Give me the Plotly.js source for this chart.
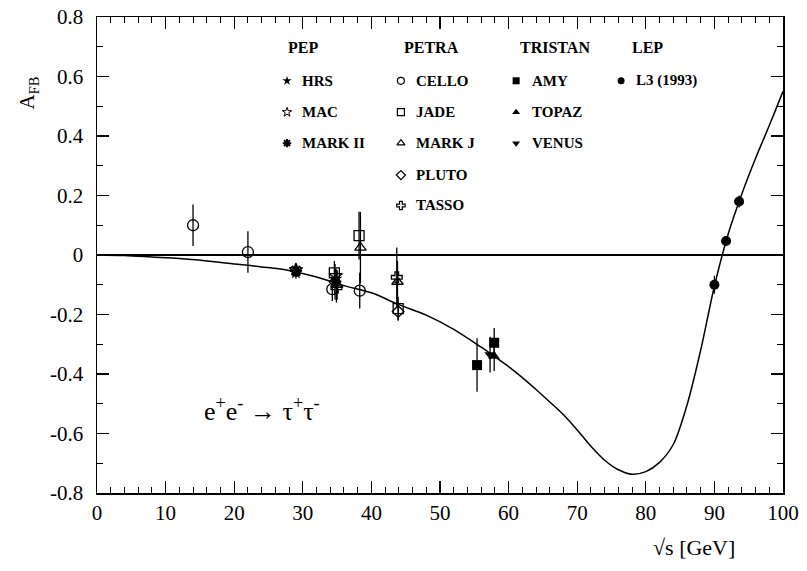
<!DOCTYPE html>
<html><head><meta charset="utf-8">
<script src="https://cdn.plot.ly/plotly-3.0.1.min.js"></script>
<style>body{margin:0;background:#fff}#plot{width:807px;height:571px}</style>
</head><body><div id="plot"></div>
<script>
// ---- theory curve ----
const curveX = [0, 4, 8, 12, 16, 20, 24, 28, 32, 36, 40, 44, 48, 52, 56, 58, 60, 62, 64, 66, 68, 70, 72, 74, 76, 78, 80, 82, 84, 86, 88, 90, 92, 94, 96, 98, 100];
const curveY = [0, -0.002, -0.007, -0.012, -0.02, -0.03, -0.04, -0.052, -0.074, -0.103, -0.127, -0.167, -0.202, -0.25, -0.31, -0.342, -0.375, -0.412, -0.452, -0.494, -0.537, -0.588, -0.643, -0.69, -0.722, -0.737, -0.728, -0.697, -0.637, -0.505, -0.32, -0.105, 0.07, 0.205, 0.325, 0.435, 0.55];

// ---- measurements ----
const hrsX = [29.0, 34.8], hrsY = [-0.06, -0.08], hrsE = [0.02, 0.03];
const macX = [29.0, 34.8], macY = [-0.05, -0.07], macE = [0.015, 0.025];
const mk2X = [29.0], mk2Y = [-0.052], mk2E = [0.02];
const celloX = [14.0, 22.0, 34.3, 38.3], celloY = [0.10, 0.01, -0.115, -0.12], celloE = [0.07, 0.07, 0.04, 0.06];
const jadeX = [34.6, 38.2, 43.9], jadeY = [-0.06, 0.065, -0.18], jadeE = [0.04, 0.08, 0.04];
const markjX = [35.0, 38.4, 43.8], markjY = [-0.10, 0.025, -0.09], markjE = [0.05, 0.12, 0.07];
const plutoX = [34.7, 43.9], plutoY = [-0.09, -0.19], plutoE = [0.06, 0.03];
const tassoX = [34.9, 43.7], tassoY = [-0.11, -0.075], tassoE = [0.05, 0.10];
const amyX = [55.4, 57.9], amyY = [-0.37, -0.295], amyE = [0.09, 0.05];
const topazX = [57.9], topazY = [-0.34], topazE = [0.05];
const venusX = [57.3], venusY = [-0.335], venusE = [0.06];
const l3X = [90.0, 91.7, 93.6], l3Y = [-0.10, 0.047, 0.18], l3E = [0.03, 0.015, 0.02];

// ---- legend groups ----
const groupNames = ["PEP", "PETRA", "TRISTAN", "LEP"];
const pepNames = ["HRS", "MAC", "MARK II"];
const petraNames = ["CELLO", "JADE", "MARK J", "PLUTO", "TASSO"];
const tristanNames = ["AMY", "TOPAZ", "VENUS"];
const lepNames = ["L3 (1993)"];

const yTickVals = [-0.8, -0.6, -0.4, -0.2, 0, 0.2, 0.4, 0.6, 0.8];
const yTickText = ["-0.8", "-0.6", "-0.4", "-0.2", "0", "0.2", "0.4", "0.6", "0.8"];

const FONT = "Liberation Serif, Times New Roman, serif";

function meas(x, y, e, sym, size, lw) {
  return {
    x: x, y: y, type: "scatter", mode: "markers",
    marker: {symbol: sym, size: size, color: "black", line: {color: "black", width: lw}},
    error_y: {type: "data", array: e, visible: true, width: 0, thickness: 1.3, color: "black"},
    showlegend: false, xaxis: "x", yaxis: "y", hoverinfo: "x+y"
  };
}

const traces = [
  {x: curveX, y: curveY, type: "scatter", mode: "lines", line: {color: "black", width: 1.5, shape: "spline", smoothing: 0.9}, showlegend: false, hoverinfo: "skip"},
  meas(celloX, celloY, celloE, "circle-open", 11, 1.3),
  meas(jadeX, jadeY, jadeE, "square-open", 10, 1.3),
  meas(markjX, markjY, markjE, "triangle-up-open", 10, 1.3),
  meas(plutoX, plutoY, plutoE, "diamond-open", 9, 1.3),
  meas(tassoX, tassoY, tassoE, "cross-open", 9, 1.3),
  meas(hrsX, hrsY, hrsE, "star", 10, 0),
  meas(macX, macY, macE, "star-open", 10, 1.3),
  meas(mk2X, mk2Y, mk2E, "asterisk-open", 10, 2.5),
  meas(amyX, amyY, amyE, "square", 10, 0),
  meas(topazX, topazY, topazE, "triangle-up", 10, 0),
  meas(venusX, venusY, venusE, "triangle-down", 10, 0),
  meas(l3X, l3Y, l3E, "circle", 10, 0)
];

// legend keys drawn on an overlay axis pair (x2/y2 spanning 0..1 of the plot area)
const colX = [0.277, 0.443, 0.611, 0.764];
const textX = [0.296, 0.462, 0.631, 0.783];
const headX = [0.276, 0.444, 0.613, 0.777];
const headY = 0.935;
const rowY = [0.866, 0.800, 0.735, 0.668, 0.604];
const groups = [
  {names: pepNames, syms: ["star", "star-open", "asterisk-open"], lw: [0, 1, 2]},
  {names: petraNames, syms: ["circle-open", "square-open", "triangle-up-open", "diamond-open", "cross-open"], lw: [1.2, 1.2, 1.2, 1.2, 1.2]},
  {names: tristanNames, syms: ["square", "triangle-up", "triangle-down"], lw: [0, 0, 0]},
  {names: lepNames, syms: ["circle"], lw: [0]}
];
const annotations = [];
groups.forEach((g, gi) => {
  annotations.push({xref: "paper", yref: "paper", x: headX[gi], y: headY, xanchor: "left", yanchor: "middle",
    text: "<b>" + groupNames[gi] + "</b>", showarrow: false, font: {family: FONT, size: 16, color: "black"}});
  g.names.forEach((n, i) => {
    traces.push({x: [colX[gi]], y: [rowY[i]], xaxis: "x2", yaxis: "y2", type: "scatter", mode: "markers",
      marker: {symbol: g.syms[i], size: 7, color: "black", line: {color: "black", width: g.lw[i]}},
      showlegend: false, hoverinfo: "skip"});
    annotations.push({xref: "paper", yref: "paper", x: textX[gi], y: rowY[i], xanchor: "left", yanchor: "middle",
      text: "<b>" + n + "</b>", showarrow: false, font: {family: FONT, size: 15, color: "black"}});
  });
});

annotations.push({xref: "x", yref: "y", x: 24.0, y: -0.52, text: "e<sup>+</sup>e<sup>-</sup> → τ<sup>+</sup>τ<sup>-</sup>",
  showarrow: false, font: {family: FONT, size: 26, color: "black"}});
annotations.push({xref: "paper", yref: "paper", x: 0.87, y: -0.115, xanchor: "center", yanchor: "middle",
  text: "√s [GeV]", showarrow: false, font: {family: FONT, size: 22, color: "black"}});
annotations.push({xref: "paper", yref: "paper", x: -0.1, y: 0.84, xanchor: "center", yanchor: "middle",
  text: "A<sub>FB</sub>", textangle: -90, showarrow: false, font: {family: FONT, size: 21, color: "black"}});

const axBase = {
  showgrid: false, showline: true, linecolor: "black", linewidth: 1.5, mirror: "allticks",
  ticks: "inside", ticklen: 12, tickwidth: 1.2, tickcolor: "black",
  tickfont: {family: FONT, size: 21, color: "black"}
};

const layout = {
  width: 807, height: 571,
  margin: {l: 97, r: 24, t: 17, b: 78},
  paper_bgcolor: "white", plot_bgcolor: "white",
  showlegend: false,
  xaxis: Object.assign({}, axBase, {range: [0, 100], dtick: 10, tick0: 0, zeroline: false,
    minor: {dtick: 2, ticks: "inside", ticklen: 6, tickcolor: "black", tickwidth: 1}}),
  yaxis: Object.assign({}, axBase, {range: [-0.8, 0.8], tickvals: yTickVals, ticktext: yTickText,
    zeroline: true, zerolinecolor: "black", zerolinewidth: 1.5, ticklabelstandoff: 8,
    minor: {tickvals: [-0.7, -0.5, -0.3, -0.1, 0.1, 0.3, 0.5, 0.7], ticks: "inside", ticklen: 6, tickcolor: "black", tickwidth: 1}}),
  xaxis2: {overlaying: "x", range: [0, 1], visible: false, fixedrange: true},
  yaxis2: {overlaying: "y", range: [0, 1], visible: false, fixedrange: true},
  annotations: annotations
};

Plotly.newPlot("plot", traces, layout, {displayModeBar: false, staticPlot: true});
</script></body></html>
